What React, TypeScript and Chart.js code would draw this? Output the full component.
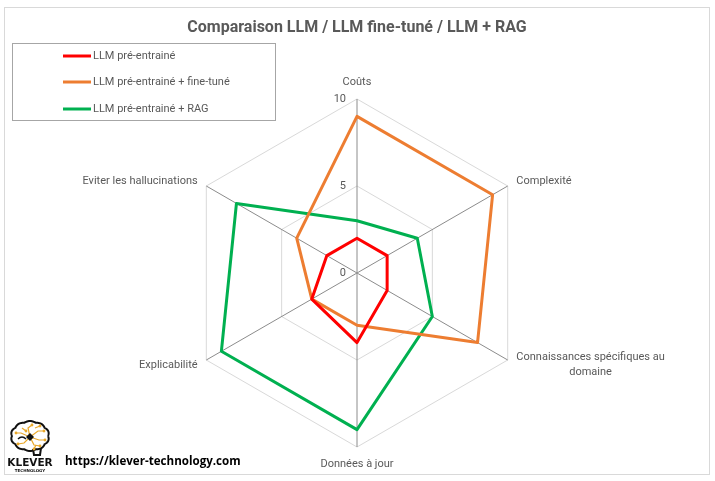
import React, { useEffect, useRef } from "react";
import { Chart, registerables } from "chart.js";

Chart.register(...registerables);

// ---------- data ----------
const CHART_TITLE = "Comparaison LLM / LLM fine-tuné / LLM + RAG";
const CATEGORIES: (string | string[])[] = [
  "Coûts",
  "Complexité",
  ["Connaissances spécifiques au", "domaine"],
  "Données à jour",
  "Explicabilité",
  "Eviter les hallucinations",
];
const SERIES_NAMES = [
  "LLM pré-entrainé",
  "LLM pré-entrainé + fine-tuné",
  "LLM pré-entrainé + RAG",
];
const LLM_BASE = [2, 2, 2, 4, 3, 2];
const LLM_FINETUNE = [9, 9, 8, 3, 3, 4];
const LLM_RAG = [3, 4, 5, 9, 9, 8];
const SCALE_MIN = 0;
const SCALE_MAX = 10;
const SCALE_STEP = 5;
const WEBSITE = "https://klever-technology.com";
const LOGO_NAME = "KLEVER";
const LOGO_SUB = "TECHNOLOGY";

// ---------- styles ----------
const COLORS = ["#ff0000", "#ed7d31", "#00b050"];
const TEXT_COLOR = "#595959";
const FONT = "Roboto, 'Liberation Sans', sans-serif";
const W = 715;
const H = 481;

function drawLogo(ctx: CanvasRenderingContext2D) {
  ctx.save();
  const cx = 30, cy = 437;
  // brain outline (bumpy)
  ctx.beginPath();
  const steps = 120;
  for (let k = 0; k <= steps; k++) {
    const t = (k / steps) * Math.PI * 2;
    const bump = 1 + 0.07 * Math.abs(Math.sin(5 * t));
    const x = cx + 18 * bump * Math.cos(t);
    const y = cy - 1 + 14 * bump * Math.sin(t);
    if (k === 0) ctx.moveTo(x, y);
    else ctx.lineTo(x, y);
  }
  ctx.fillStyle = "#ffffff";
  ctx.fill();
  ctx.strokeStyle = "#111111";
  ctx.lineWidth = 2;
  ctx.stroke();
  // stem
  ctx.beginPath();
  ctx.moveTo(33, 449);
  ctx.lineTo(34, 455);
  ctx.lineTo(40, 455);
  ctx.lineTo(41, 448);
  ctx.stroke();
  // circuits
  ctx.strokeStyle = "#e9a82a";
  ctx.fillStyle = "#e9a82a";
  ctx.lineWidth = 1.2;
  const paths: number[][] = [
    [cx, cy, cx + 8, cy - 6, cx + 14, cy - 6],
    [cx, cy, cx + 9, cy + 3, cx + 15, cy + 3],
    [cx, cy, cx + 4, cy + 8, cx + 10, cy + 9],
    [cx, cy, cx - 2, cy - 9, cx + 2, cy - 12],
    [cx, cy, cx - 9, cy - 4, cx - 14, cy - 4],
    [cx, cy, cx - 6, cy + 6, cx - 12, cy + 7],
    [cx + 5, cy - 9, cx + 10, cy - 11],
    [cx - 8, cy - 9, cx - 4, cy - 6],
    [cx + 6, cy + 8, cx + 4, cy + 12],
  ];
  for (const p of paths) {
    ctx.beginPath();
    ctx.moveTo(p[0], p[1]);
    for (let j = 2; j < p.length; j += 2) ctx.lineTo(p[j], p[j + 1]);
    ctx.stroke();
    ctx.beginPath();
    ctx.arc(p[p.length - 2], p[p.length - 1], 1.4, 0, Math.PI * 2);
    ctx.fill();
  }
  // dark chip in center
  ctx.fillStyle = "#111111";
  ctx.beginPath();
  ctx.moveTo(cx, cy - 4);
  ctx.lineTo(cx + 4, cy);
  ctx.lineTo(cx, cy + 4);
  ctx.lineTo(cx - 4, cy);
  ctx.closePath();
  ctx.fill();
  // left lobe dark curves
  ctx.strokeStyle = "#111111";
  ctx.lineWidth = 1.5;
  ctx.beginPath();
  ctx.moveTo(cx - 12, cy + 2);
  ctx.quadraticCurveTo(cx - 8, cy - 2, cx - 4, cy + 2);
  ctx.stroke();
  // text
  ctx.fillStyle = "#111111";
  ctx.textAlign = "center";
  ctx.textBaseline = "middle";
  ctx.font = `bold 10.5px 'DejaVu Sans', sans-serif`;
  ctx.fillText(LOGO_NAME, cx, 463);
  ctx.font = `bold 4px 'DejaVu Sans', sans-serif`;
  ctx.fillText(LOGO_SUB, cx, 471);
  ctx.restore();
}

const overlayPlugin = {
  id: "overlay",
  beforeDraw(chart: any) {
    const ctx: CanvasRenderingContext2D = chart.ctx;
    ctx.save();
    ctx.fillStyle = "#ffffff";
    ctx.fillRect(0, 0, W, H);
    ctx.strokeStyle = "#d9d9d9";
    ctx.lineWidth = 1;
    ctx.strokeRect(4.5, 7.5, 705, 467);
    ctx.restore();
  },
  afterDraw(chart: any) {
    const ctx: CanvasRenderingContext2D = chart.ctx;
    const scale = chart.scales.r;
    ctx.save();

    // title
    ctx.fillStyle = TEXT_COLOR;
    ctx.textAlign = "center";
    ctx.textBaseline = "middle";
    ctx.font = `bold 16px ${FONT}`;
    ctx.fillText(CHART_TITLE, 357, 28);

    // tick labels
    ctx.font = `11px ${FONT}`;
    ctx.textAlign = "right";
    for (const tick of scale.ticks) {
      const p = scale.getPointPositionForValue(0, tick.value);
      ctx.fillText(String(tick.value), scale.xCenter - 11, p.y);
    }

    // point labels
    const labels = chart.data.labels as (string | string[])[];
    const n = labels.length;
    const lh = 15;
    ctx.font = `11px ${FONT}`;
    for (let i = 0; i < n; i++) {
      const lines = Array.isArray(labels[i]) ? (labels[i] as string[]) : [labels[i] as string];
      const angle = Math.round((i * 360) / n);
      const p = scale.getPointPosition(i, scale.drawingArea + 10);
      const h = lines.length * lh;
      const bw = Math.max(...lines.map((l) => ctx.measureText(l).width));
      let top: number;
      let cxText: number;
      if (angle === 0) {
        top = p.y - h + 1;
        cxText = p.x;
      } else if (angle === 180) {
        top = p.y;
        cxText = p.x;
      } else if (angle < 180) {
        top = p.y - h / 2;
        cxText = p.x + bw / 2;
      } else {
        top = p.y - h / 2;
        cxText = p.x - bw / 2;
      }
      ctx.textAlign = "center";
      lines.forEach((l, k) => ctx.fillText(l, cxText, top + lh * (k + 0.5)));
    }

    // legend
    ctx.strokeStyle = "#a6a6a6";
    ctx.lineWidth = 1;
    ctx.strokeRect(12.5, 43.5, 263, 77);
    const legendY = [56, 82, 109];
    chart.data.datasets.forEach((ds: any, i: number) => {
      ctx.strokeStyle = ds.borderColor;
      ctx.lineWidth = 3;
      ctx.beginPath();
      ctx.moveTo(63, legendY[i]);
      ctx.lineTo(91, legendY[i]);
      ctx.stroke();
      ctx.fillStyle = TEXT_COLOR;
      ctx.textAlign = "left";
      ctx.font = `11px ${FONT}`;
      ctx.fillText(ds.label, 93, legendY[i]);
    });

    // website
    ctx.fillStyle = "#000000";
    ctx.textAlign = "left";
    ctx.font = `bold 11.6px 'Open Sans', sans-serif`;
    ctx.fillText(WEBSITE, 65, 462);

    ctx.restore();
    drawLogo(ctx);
  },
};

export default function App() {
  const ref = useRef<HTMLCanvasElement | null>(null);

  useEffect(() => {
    if (!ref.current) return;
    const seriesValues = [LLM_BASE, LLM_FINETUNE, LLM_RAG];
    const chart = new Chart(ref.current, {
      type: "radar",
      data: {
        labels: CATEGORIES as any,
        datasets: seriesValues.map((vals, i) => ({
          label: SERIES_NAMES[i],
          data: vals,
          borderColor: COLORS[i],
          backgroundColor: "transparent",
          borderWidth: 3,
          fill: false,
          pointRadius: 0,
          pointHoverRadius: 0,
          borderJoinStyle: "round" as const,
          tension: 0,
        })),
      },
      options: {
        animation: false,
        responsive: false,
        maintainAspectRatio: false,
        devicePixelRatio: 1,
        layout: { padding: { top: 99, bottom: 34, left: 0, right: 0 } },
        plugins: {
          legend: { display: false },
          title: { display: false },
          tooltip: { enabled: false },
        },
        scales: {
          r: {
            min: SCALE_MIN,
            max: SCALE_MAX,
            beginAtZero: true,
            ticks: { stepSize: SCALE_STEP, display: false },
            grid: { color: "#d9d9d9", lineWidth: 1 },
            angleLines: { color: "#8c8c8c", lineWidth: 1 },
            pointLabels: { display: false },
          },
        },
      },
      plugins: [overlayPlugin],
    });
    return () => chart.destroy();
  }, []);

  return (
    <div style={{ position: "absolute", left: 0, top: 0, width: W, height: H }}>
      <canvas ref={ref} width={W} height={H} style={{ width: W, height: H, display: "block" }} />
    </div>
  );
}
